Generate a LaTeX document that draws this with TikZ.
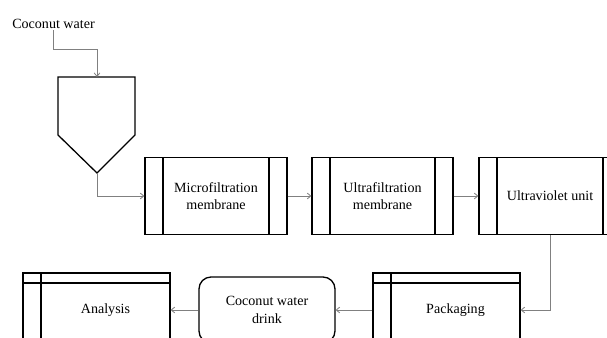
\documentclass[tikz,border=0pt]{standalone}
\usepackage{fontspec}
\setmainfont{Liberation Serif}
\usetikzlibrary{arrows.meta}
\tikzset{
    unit/.style={draw, line width=1.1pt, minimum width=4.26cm, minimum height=2.31cm,
        align=center, font=\fontsize{12}{15}\selectfont,
        path picture={
            \draw[line width=1.1pt] ([xshift=0.54cm]path picture bounding box.north west) -- ([xshift=0.54cm]path picture bounding box.south west);
            \draw[line width=1.1pt] ([xshift=-0.54cm]path picture bounding box.north east) -- ([xshift=-0.54cm]path picture bounding box.south east);
        }},
    store/.style={draw, line width=1.1pt, minimum width=4.41cm, minimum height=2.22cm,
        align=center, font=\fontsize{12}{15}\selectfont,
        execute at begin node={\hspace*{0.54cm}},
        path picture={
            \draw[line width=1.1pt] ([xshift=0.54cm]path picture bounding box.north west) -- ([xshift=0.54cm]path picture bounding box.south west);
            \draw[line width=1.1pt] ([yshift=-0.3cm]path picture bounding box.north west) -- ([yshift=-0.3cm]path picture bounding box.north east);
        }},
    product/.style={draw, line width=1.1pt, rounded corners=0.36cm, minimum width=4.08cm,
        minimum height=1.98cm, align=center, font=\fontsize{12}{15}\selectfont},
    hopper/.style={draw, line width=1.1pt},
    flow/.style={draw=gray, line width=0.7pt, -{Straight Barb[length=3pt,width=5pt]}},
}

\begin{document}
\begin{tikzpicture}[x=0.03cm, y=-0.03cm]
\useasboundingbox (0,0) rectangle (607,338);
\clip (0,0) rectangle (607,338);
\node[font=\fontsize{12}{15}\selectfont, inner sep=1pt] (cw) at (53.5,24) {Coconut water};
\coordinate (hoptop) at (97,77);
\coordinate (apex) at (97,173);
\draw[hopper] (58,77) -- (135,77) -- (135,135) -- (apex) -- (58,135) -- cycle;
\node[unit] (mf) at (216,196) {Microfiltration\\membrane};
\node[unit, minimum width=4.23cm] (uf) at (382.5,196) {Ultrafiltration\\membrane};
\node[unit] (uv) at (550,196) {Ultraviolet unit};
\node[store] (pack) at (446.5,310) {Packaging};
\node[product] (drink) at (267,310) {Coconut water\\drink};
\node[store] (ana) at (96.5,310) {Analysis};
\draw[flow] (cw.south) -- ++(0,19) -| (hoptop);
\draw[flow] (apex) |- (mf.west);
\draw[flow] (mf) -- (uf);
\draw[flow] (uf) -- (uv);
\draw[flow] (uv.south) |- (pack.east);
\draw[flow] (pack) -- (drink);
\draw[flow] (drink) -- (ana);
\end{tikzpicture}
\end{document}
